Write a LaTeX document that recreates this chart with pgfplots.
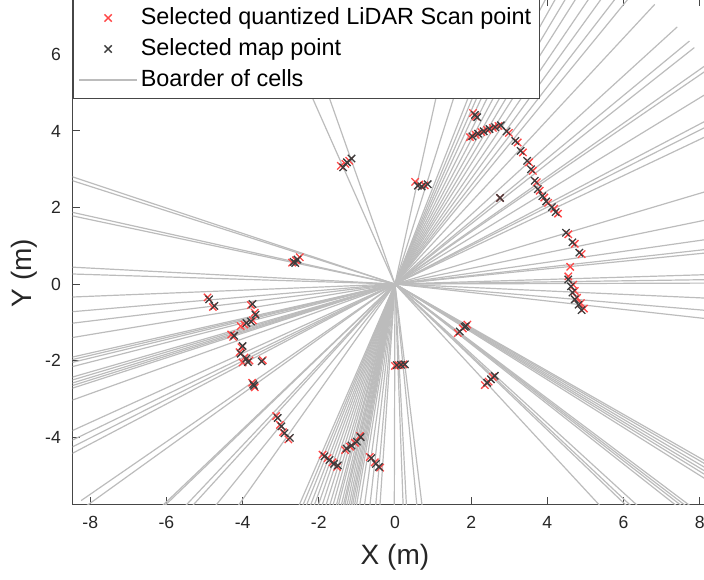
\documentclass[border=0pt]{standalone}
\usepackage{pgfplots}
\pgfplotsset{compat=1.18}
\usepackage{pgfplotstable}
\usepackage{fontspec}
\setmainfont{Liberation Sans}
\definecolor{raygray}{RGB}{188,188,188}
\definecolor{scanred}{RGB}{255,70,70}
\definecolor{mapgray}{RGB}{60,60,60}
\definecolor{axgray}{RGB}{70,70,70}

% cell borders: rays from the origin, end points (u,v)
\pgfplotstableread{
x y u v
0 0 -3.34 9.43
0 0 -4.07 9.14
0 0 -9.49 3.14
0 0 -9.53 3.04
0 0 -9.76 2.16
0 0 -9.79 2.06
0 0 -9.99 0.52
0 0 -10.0 0.31
0 0 -9.99 -0.40
0 0 -9.96 -0.85
0 0 -9.93 -1.20
0 0 -9.87 -1.63
0 0 -9.76 -2.20
0 0 -9.74 -2.27
0 0 -9.72 -2.35
0 0 -9.69 -2.47
0 0 -9.61 -2.76
0 0 -9.59 -2.84
0 0 -9.56 -2.92
0 0 -9.54 -2.99
0 0 -9.52 -3.06
0 0 -9.41 -3.37
0 0 -9.11 -4.12
0 0 -9.01 -4.34
0 0 -8.93 -4.49
0 0 -8.86 -4.63
0 0 -8.24 -5.66
0 0 -8.13 -5.82
0 0 -7.25 -6.88
0 0 -7.22 -6.92
0 0 -6.88 -7.25
0 0 -6.76 -7.37
0 0 -6.31 -7.76
0 0 -5.79 -8.15
0 0 -3.99 -9.17
0 0 -3.86 -9.23
0 0 -3.73 -9.28
0 0 -3.58 -9.34
0 0 -3.44 -9.39
0 0 -3.29 -9.44
0 0 -3.14 -9.49
0 0 -2.99 -9.54
0 0 -2.84 -9.59
0 0 -2.71 -9.63
0 0 -2.57 -9.66
0 0 -2.49 -9.69
0 0 -2.37 -9.72
0 0 -2.28 -9.74
0 0 -2.22 -9.75
0 0 -2.13 -9.77
0 0 -2.04 -9.79
0 0 -1.96 -9.81
0 0 -1.89 -9.82
0 0 -1.81 -9.84
0 0 -1.72 -9.85
0 0 -1.58 -9.87
0 0 -1.37 -9.91
0 0 -1.13 -9.94
0 0 -0.87 -9.96
0 0 -0.68 -9.98
0 0 -0.03 -10.0
0 0 0.37 -9.99
0 0 0.52 -9.99
0 0 0.99 -9.95
0 0 1.22 -9.93
0 0 6.81 -7.33
0 0 7.24 -6.90
0 0 7.30 -6.83
0 0 7.40 -6.73
0 0 7.87 -6.17
0 0 7.92 -6.10
0 0 7.97 -6.05
0 0 8.01 -5.99
0 0 8.48 -5.30
0 0 8.53 -5.22
0 0 8.57 -5.15
0 0 8.62 -5.08
0 0 8.66 -5.00
0 0 8.70 -4.94
0 0 9.94 -1.10
0 0 9.96 -0.84
0 0 9.99 -0.45
0 0 10.0 0.03
0 0 10.0 0.14
0 0 10.0 0.30
0 0 9.95 0.99
0 0 9.94 1.10
0 0 9.90 1.41
0 0 9.80 2.01
0 0 9.59 2.84
0 0 9.04 4.27
0 0 8.93 4.49
0 0 8.86 4.63
0 0 8.55 5.20
0 0 8.26 5.64
0 0 8.19 5.74
0 0 7.86 6.18
0 0 7.73 6.35
0 0 7.41 6.72
0 0 6.82 7.31
0 0 6.35 7.73
0 0 6.13 7.90
0 0 5.88 8.09
0 0 5.64 8.26
0 0 5.37 8.43
0 0 5.15 8.57
0 0 4.92 8.70
0 0 4.69 8.83
0 0 4.46 8.95
0 0 4.23 9.06
0 0 4.04 9.15
0 0 3.86 9.23
0 0 3.67 9.30
0 0 3.02 9.53
0 0 2.16 9.76
}\rays

\pgfplotstableread{
x y
-1.42 3.09
-1.20 3.22
-1.30 3.14
0.53 2.67
0.78 2.58
0.64 2.60
2.05 4.47
2.12 4.38
1.97 3.84
2.12 3.90
2.27 3.97
2.42 4.03
2.57 4.08
2.72 4.13
2.99 3.95
3.22 3.70
3.36 3.44
3.52 3.18
3.62 2.96
3.72 2.66
3.80 2.44
3.92 2.26
4.02 2.12
4.18 1.97
4.28 1.84
4.55 1.30
4.72 1.05
4.90 0.78
4.60 0.45
4.55 0.20
4.68 -0.02
4.72 -0.18
4.78 -0.36
4.88 -0.50
4.96 -0.64
2.76 2.25
1.65 -1.28
1.78 -1.16
1.90 -1.06
2.36 -2.64
2.46 -2.55
2.57 -2.43
0.00 -2.14
0.10 -2.12
0.22 -2.10
-2.70 0.56
-2.60 0.62
-2.50 0.70
-4.92 -0.35
-4.78 -0.60
-3.78 -0.55
-3.68 -0.75
-3.73 -0.95
-3.95 -1.06
-4.05 -1.10
-4.25 -1.38
-4.30 -1.32
-4.03 -1.65
-4.08 -1.78
-3.95 -1.92
-3.82 -2.00
-4.00 -2.05
-3.47 -1.99
-3.75 -2.58
-3.68 -2.70
-3.12 -3.45
-3.02 -3.68
-2.94 -3.87
-2.80 -4.06
-1.90 -4.46
-1.77 -4.55
-1.64 -4.66
-1.52 -4.78
-1.31 -4.34
-1.18 -4.25
-1.05 -4.15
-0.92 -3.97
-0.66 -4.52
-0.53 -4.66
-0.39 -4.80
}\scanpts

\pgfplotstableread{
x y
-1.36 3.05
-1.14 3.28
-1.26 3.18
0.60 2.57
0.86 2.61
0.70 2.55
2.10 4.42
2.16 4.36
2.03 3.86
2.18 3.93
2.33 3.99
2.48 4.05
2.63 4.10
2.78 4.15
2.93 3.99
3.16 3.74
3.30 3.48
3.47 3.22
3.57 3.00
3.67 2.70
3.75 2.48
3.87 2.30
3.97 2.16
4.12 2.01
4.22 1.88
4.49 1.34
4.66 1.09
4.84 0.82
4.55 0.12
4.62 -0.06
4.66 -0.22
4.72 -0.40
4.82 -0.54
4.90 -0.68
2.76 2.25
1.70 -1.24
1.83 -1.12
1.86 -1.10
2.42 -2.58
2.52 -2.49
2.62 -2.40
0.05 -2.12
0.16 -2.11
0.26 -2.10
-2.66 0.58
-2.56 0.64
-2.62 0.55
-4.88 -0.40
-4.74 -0.57
-3.74 -0.52
-3.66 -0.80
-3.78 -0.98
-3.90 -1.02
-4.22 -1.35
-4.00 -1.62
-4.05 -1.82
-3.90 -1.95
-3.86 -2.04
-3.50 -2.02
-3.72 -2.62
-3.70 -2.66
-3.08 -3.50
-2.98 -3.72
-2.90 -3.90
-2.76 -4.02
-1.85 -4.50
-1.72 -4.60
-1.60 -4.70
-1.50 -4.74
-1.27 -4.30
-1.14 -4.22
-1.00 -4.12
-0.90 -4.00
-0.62 -4.55
-0.50 -4.70
-0.42 -4.78
}\mappts

\begin{document}
\begin{tikzpicture}
\begin{axis}[
  name=ax,
  x=19.04pt, y=19.125pt,
  xmin=-8.46, xmax=8.46, ymin=-5.75, ymax=7.45,
  axis line style={axgray, line width=0.5pt},
  xtick={-8,-6,...,8}, ytick={-4,-2,...,6},
  tick style={axgray, line width=0.5pt},
  major tick length=3.5pt,
  tick align=inside,
  /pgf/number format/assume math mode=true,
  tick label style={font=\fontsize{8.8}{10}\selectfont, text=black!85},
  xticklabel style={yshift=-2.5pt},
  yticklabel style={xshift=-2.4pt},
  xlabel={X (m)}, ylabel={Y (m)},
  every axis x label/.style={at={(axis description cs:0.5,0)}, anchor=center, yshift=-26.5pt, font=\fontsize{14}{16}\selectfont, text=black!85},
  every axis y label/.style={at={(axis description cs:0,0.4576)}, anchor=center, rotate=90, yshift=24pt, font=\fontsize{14}{16}\selectfont, text=black!85},
  legend cell align=left,
  legend style={at={(0,1)}, anchor=north west, draw=axgray, line width=0.5pt, fill=white,
    inner xsep=2.6pt, inner ysep=1.5pt,
    font=\fontsize{11.7}{14}\selectfont,
    nodes={text height=9pt, text depth=3pt, inner ysep=1.75pt, inner xsep=1.5pt}},
]
\addplot[raygray, line width=0.6pt, quiver={u=\thisrow{u}, v=\thisrow{v}}, forget plot] table {\rays};
\addplot[only marks, mark=x, mark size=2.6pt, scanred, mark options={line width=0.65pt}, forget plot] table {\scanpts};
\addplot[only marks, mark=x, mark size=2.6pt, mapgray, mark options={line width=0.65pt}, forget plot] table {\mappts};
\addlegendimage{legend image code/.code={\draw[scanred] plot[mark=x, mark size=2.6pt, mark options={line width=0.65pt}] coordinates {(14.5pt,0pt)};}}
\addlegendentry{Selected quantized LiDAR Scan point}
\addlegendimage{legend image code/.code={\draw[mapgray] plot[mark=x, mark size=2.6pt, mark options={line width=0.65pt}] coordinates {(14.5pt,0pt)};}}
\addlegendentry{Selected map point}
\addlegendimage{legend image code/.code={\draw[raygray, line width=0.7pt] (0pt,0pt) -- (29pt,0pt);}}
\addlegendentry{Boarder of cells}
\end{axis}
\pgfresetboundingbox
\path[use as bounding box] ([xshift=-36.35pt, yshift=-37.5pt]ax.south west) rectangle ([xshift=-6.6pt, yshift=-0.5pt]ax.north east);
\end{tikzpicture}
\end{document}
